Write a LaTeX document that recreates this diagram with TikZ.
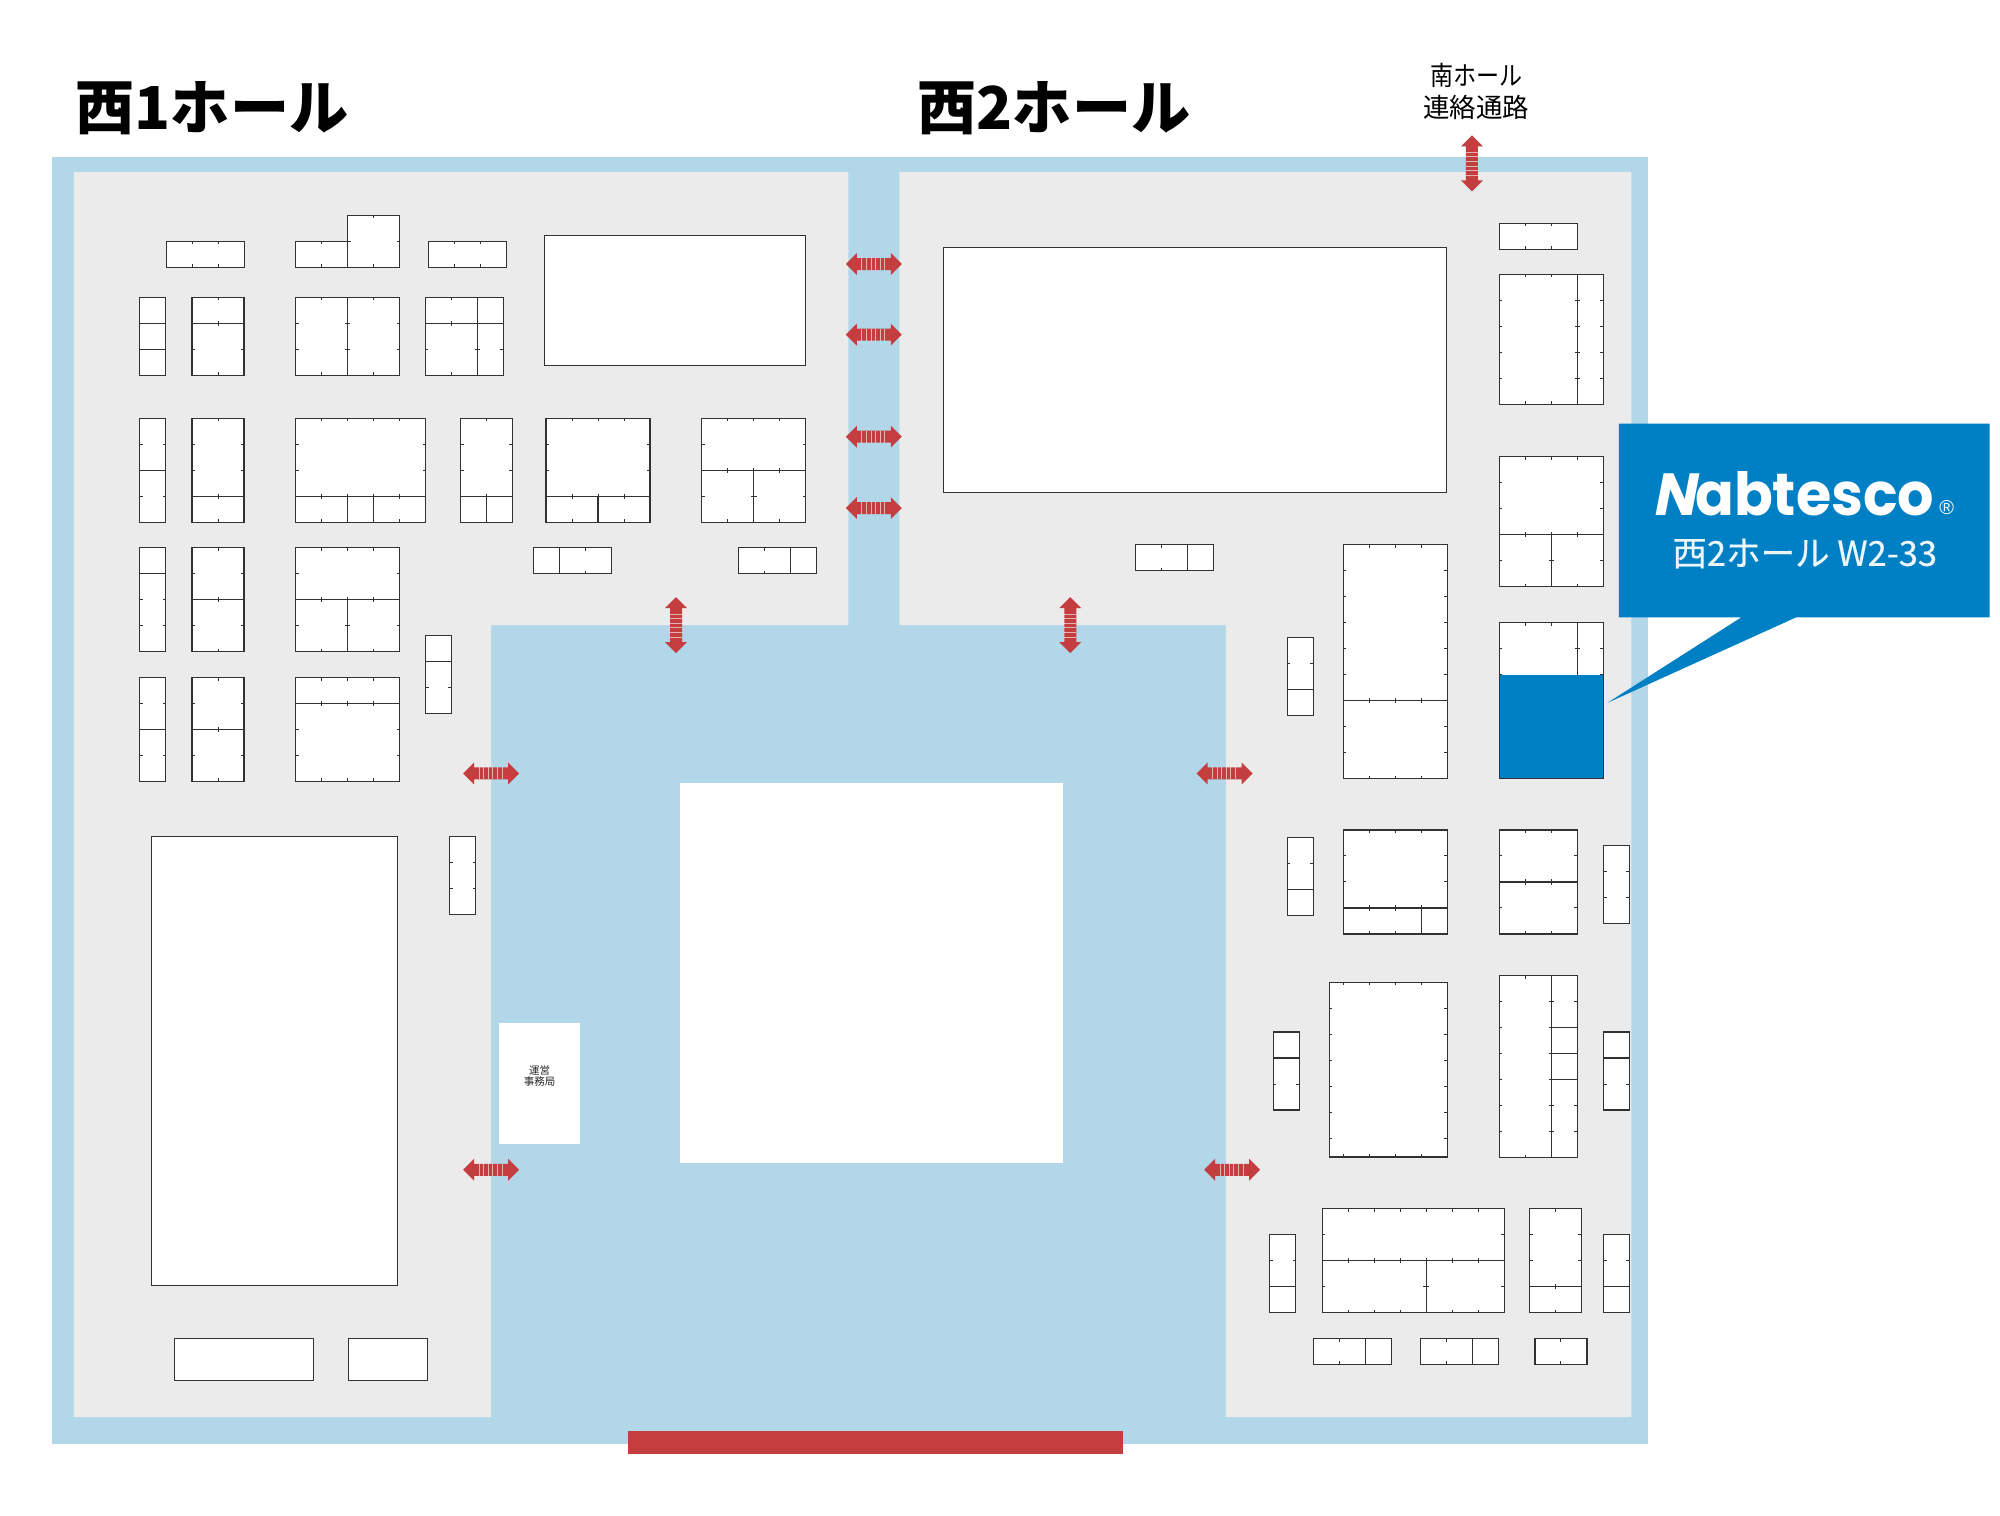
\documentclass[tikz,border=0pt]{standalone}
\usepackage{graphicx}
\usepackage{fontspec}
\newfontfamily\cjk{Noto Sans CJK JP}
\newfontfamily\cjkmed[FakeBold=0.35]{Noto Sans CJK JP}
\newfontfamily\logofont{Poppins}
\newfontfamily\logoslant[FakeSlant=0.2]{Poppins}
\newfontfamily\regfont{Liberation Sans}
\definecolor{aisle}{RGB}{177,215,232}
\definecolor{hall}{RGB}{235,235,235}
\definecolor{redarrow}{RGB}{196,62,64}
\definecolor{nabblue}{RGB}{0,128,196}
\definecolor{ln}{RGB}{50,50,50}
\tikzset{
  stallline/.style={draw=ln,line width=1.15pt},
  ticky/.style={draw=ln,line width=.9pt},
  plainbox/.style={fill=white,draw=ln,line width=1.1pt},
}
\newcommand\hl[3]{% row, from, to
  \draw[stallline] (#2,#1) -- (#3,#1);
  \foreach \i in {#2,...,#3}{\ifnum\i>#2 \ifnum\i<#3 \draw[ticky] (\i,#1-.1) -- (\i,#1+.1);\fi\fi}}
\newcommand\vl[3]{% col, from, to
  \draw[stallline] (#1,#2) -- (#1,#3);
  \foreach \i in {#2,...,#3}{\ifnum\i>#2 \ifnum\i<#3 \draw[ticky] (#1-.1,\i) -- (#1+.1,\i);\fi\fi}}
\newcommand\stall[5]{%
  \begin{scope}[shift={(#1,#2)},x=26pt,y=-26pt]
    \fill[white] (0,0) rectangle (#3,#4);
    \foreach \i in {0,...,#3}{\ifnum\i>0 \ifnum\i<#3
      \draw[ticky] (\i,0) -- (\i,.12);
      \draw[ticky] (\i,#4) -- (\i,#4-.12);\fi\fi}
    \foreach \i in {0,...,#4}{\ifnum\i>0 \ifnum\i<#4
      \draw[ticky] (0,\i) -- (.12,\i);
      \draw[ticky] (#3,\i) -- (#3-.12,\i);\fi\fi}
    #5
    \draw[stallline] (0,0) rectangle (#3,#4);
  \end{scope}}
\newcommand\dblarrow[3]{%
  \begin{scope}[shift={(#1,#2)},rotate=#3]
    \fill[redarrow] (-28,0) -- (-17,-11) -- (-17,-6) -- (17,-6) -- (17,-11) -- (28,0) -- (17,11) -- (17,6) -- (-17,6) -- (-17,11) -- cycle;
    \foreach \s in {-12,-7.4,-2.8,1.8,6.4,11}{
      \draw[white,opacity=.6,line width=1pt] (\s,-6) -- (\s,6);}
  \end{scope}}
\begin{document}
\begin{tikzpicture}[x=0.9993pt,y=-0.9993pt]
\useasboundingbox (0,0) rectangle (2001.4,1517.06);
\fill[white] (0,0) rectangle (2001.4,1517.06);
% floor
\fill[aisle] (52.3,157) rectangle (1649.2,1445);
\fill[hall] (74,172.3) -- (848.9,172.3) -- (848.9,625.5) -- (491.5,625.5) -- (491.5,1418.2) -- (74,1418.2) -- cycle;
\fill[hall] (900,172.3) -- (1632.6,172.3) -- (1632.6,1418.2) -- (1226.7,1418.2) -- (1226.7,625.5) -- (900,625.5) -- cycle;
\fill[white] (680.4,783.8) rectangle (1063.3,1164.2);
\fill[white] (499,1023.8) rectangle (580.8,1145);
\node[align=center,font=\cjk\fontsize{10.5}{11.5}\selectfont,text=black!85] (office) at (540,1077) {運営\\事務局};
\fill[redarrow] (628,1432.2) rectangle (1123.3,1455.2);
% titles
\node[anchor=west,inner sep=0,font=\cjk\bfseries\fontsize{59.2}{60}\selectfont] (t1) at (75.5,108.5) {西1ホール};
\node[anchor=west,inner sep=0,font=\cjk\bfseries\fontsize{59.2}{60}\selectfont] (t2) at (918,108.5) {西2ホール};
\node[align=center,inner sep=0,font=\cjk\fontsize{26.5}{32}\selectfont] (south) at (1477.5,92) {\scalebox{0.87}[1]{南ホール}\\連絡通路};
% West 1 hall
\stall{166.5}{241.5}{3}{1}{}
\stall{296}{241.5}{2}{1}{}
\stall{348}{215.5}{2}{2}{}
\stall{428.5}{241.5}{3}{1}{}
\stall{139.9}{297.4}{1}{3}{\hl{1}{0}{1}\hl{2}{0}{1}}
\stall{192.2}{297.4}{2}{3}{\hl{1}{0}{2}}
\stall{296}{297.4}{4}{3}{\vl{2}{0}{3}}
\stall{425.5}{297.4}{3}{3}{\hl{1}{0}{3}\vl{2}{0}{3}}
\fill[plainbox] (545,236) rectangle (806,366);
\stall{139.9}{418.5}{1}{4}{\hl{2}{0}{1}}
\stall{192.2}{418.5}{2}{4}{\hl{3}{0}{2}}
\stall{296}{418.5}{5}{4}{\hl{3}{0}{5}\vl{2}{3}{4}\vl{3}{3}{4}}
\stall{460.8}{418.5}{2}{4}{\hl{3}{0}{2}\vl{1}{3}{4}}
\stall{546.4}{418.5}{4}{4}{\hl{3}{0}{4}\vl{2}{3}{4}}
\stall{702.4}{418.5}{4}{4}{\hl{2}{0}{4}\vl{2}{2}{4}}
\stall{139.9}{548}{1}{4}{\hl{1}{0}{1}}
\stall{192.2}{548}{2}{4}{\hl{2}{0}{2}}
\stall{296}{548}{4}{4}{\hl{2}{0}{4}\vl{2}{2}{4}}
\stall{533.6}{548}{3}{1}{\vl{1}{0}{1}}
\stall{739}{548}{3}{1}{\vl{2}{0}{1}}
\stall{139.9}{678}{1}{4}{\hl{2}{0}{1}}
\stall{192.2}{678}{2}{4}{\hl{2}{0}{2}}
\stall{296}{678}{4}{4}{\hl{1}{0}{4}}
\stall{425.7}{636}{1}{3}{\hl{1}{0}{1}}
\stall{450}{837}{1}{3}{}
\fill[plainbox] (152,837) rectangle (398,1286.5);
\fill[plainbox] (174.9,1339.5) rectangle (314,1381.8);
\fill[plainbox] (348.5,1339.5) rectangle (427.6,1381.8);
% West 2 hall
\fill[plainbox] (943.8,247.4) rectangle (1447.6,492.7);
\stall{1500.4}{223.4}{3}{1}{}
\stall{1500.4}{274.4}{4}{5}{\vl{3}{0}{5}}
\stall{1500.4}{457}{4}{5}{\hl{3}{0}{4}\vl{2}{3}{5}}
\stall{1500.4}{623}{4}{6}{\vl{3}{0}{2}\fill[nabblue] (0,2) rectangle (4,6);}
\stall{1136}{545}{3}{1}{\vl{2}{0}{1}}
\stall{1344.2}{545}{4}{9}{\hl{6}{0}{4}}
\stall{1288}{638}{1}{3}{\hl{2}{0}{1}}
\stall{1288}{838}{1}{3}{\hl{2}{0}{1}}
\stall{1344.2}{830.5}{4}{4}{\hl{3}{0}{4}\vl{3}{3}{4}}
\stall{1500.4}{830.5}{3}{4}{\hl{2}{0}{3}}
\stall{1604.6}{846}{1}{3}{}
\begin{scope}[shift={(1330,983)},x=26pt,y=-26pt]
  \fill[white] (0,0) rectangle (4.54,6.72);
  \foreach \i in {0.54,1.54,2.54,3.54}{
    \draw[ticky] (\i,0) -- (\i,.12);
    \draw[ticky] (\i,6.72) -- (\i,6.6);}
  \foreach \i in {1,...,6}{
    \draw[ticky] (0,\i) -- (.12,\i);
    \draw[ticky] (4.54,\i) -- (4.42,\i);}
  \draw[stallline] (0,0) rectangle (4.54,6.72);
\end{scope}
\stall{1500.4}{976.5}{3}{7}{\vl{2}{0}{7}\hl{2}{2}{3}\hl{3}{2}{3}\hl{4}{2}{3}}
\stall{1274}{1032.7}{1}{3}{\hl{1}{0}{1}}
\stall{1604.6}{1032.7}{1}{3}{\hl{1}{0}{1}}
\stall{1270.5}{1235.7}{1}{3}{\hl{2}{0}{1}}
\stall{1323}{1209.5}{7}{4}{\hl{2}{0}{7}\vl{4}{2}{4}}
\stall{1530.5}{1209.5}{2}{4}{\hl{3}{0}{2}}
\stall{1604.6}{1235.7}{1}{3}{\hl{2}{0}{1}}
\stall{1314}{1339.5}{3}{1}{\vl{2}{0}{1}}
\stall{1421.2}{1339.5}{3}{1}{\vl{2}{0}{1}}
\stall{1536}{1339.5}{2}{1}{}
% arrows
\dblarrow{874.4}{264.2}{0}
\dblarrow{874.4}{334.9}{0}
\dblarrow{874.4}{437}{0}
\dblarrow{874.4}{508.4}{0}
\dblarrow{491.5}{774}{0}
\dblarrow{491.5}{1170.6}{0}
\dblarrow{1225.4}{774}{0}
\dblarrow{1233}{1170.6}{0}
\dblarrow{676.5}{625.5}{90}
\dblarrow{1071}{625.5}{90}
\dblarrow{1473}{163.4}{90}
% callout
\fill[nabblue] (1620,423.8) -- (1991,423.8) -- (1991,617.8) -- (1797.3,617.8) -- (1608.4,703.4) -- (1742.5,617.8) -- (1620,617.8) -- cycle;
\node[inner sep=0,text=white] (logo) at (1794.5,494) {\resizebox{282pt}{44pt}{\bfseries{\logoslant N}{\logofont abtesco}}};
\node[inner sep=0,text=white,font=\regfont\fontsize{20}{20}\selectfont] (reg) at (1948,508) {®};
\node[inner sep=0,text=white!92!nabblue,font=\cjkmed\fontsize{34.5}{36}\selectfont] (booth) at (1806,554) {西2ホール W2-33};
\end{tikzpicture}
\end{document}
